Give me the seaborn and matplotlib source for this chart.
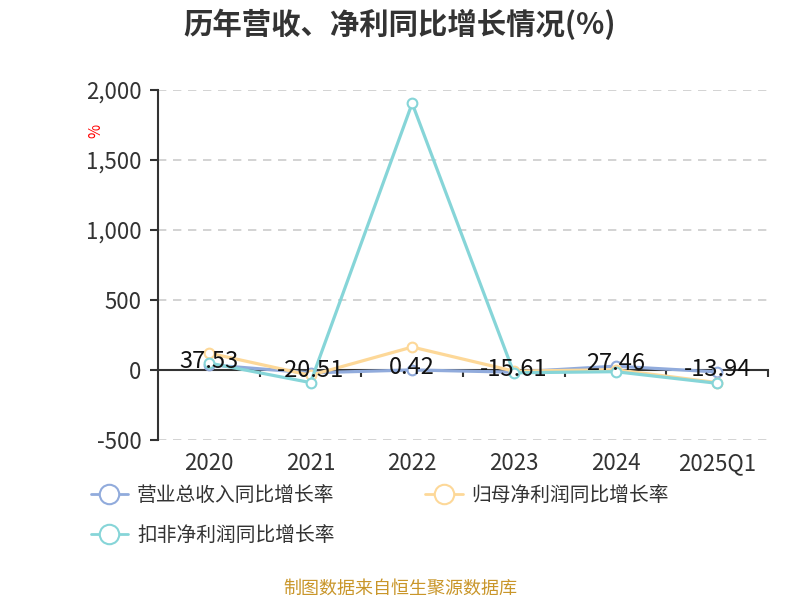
import pandas as pd
import matplotlib
matplotlib.use("Agg")
import matplotlib.pyplot as plt
from matplotlib.lines import Line2D
from matplotlib.ticker import FuncFormatter
import seaborn as sns

# 数据
years = ["2020", "2021", "2022", "2023", "2024", "2025Q1"]
revenue_growth = [37.53, -20.51, 0.42, -15.61, 27.46, -13.94]
net_profit_growth = [121, -38, 164, -8, 2, -90]
deducted_profit_growth = [50, -90, 1905, -20, -12, -95]

series_names = ["营业总收入同比增长率", "归母净利润同比增长率", "扣非净利润同比增长率"]
colors = ["#91abdc", "#fdd898", "#86d5d8"]

sns.set_theme(style="white")
plt.rcParams["font.family"] = ["Noto Sans CJK SC", "DejaVu Sans"]

df = pd.DataFrame({
    "year": years * 3,
    "value": revenue_growth + net_profit_growth + deducted_profit_growth,
    "series": [series_names[0]] * 6 + [series_names[1]] * 6 + [series_names[2]] * 6,
})

fig = plt.figure(figsize=(8, 6), dpi=100)
ax = fig.add_axes([158 / 800, 1 - 440 / 600, 610 / 800, 350 / 600])

for i, name in enumerate(series_names):
    sub = df[df["series"] == name]
    sns.lineplot(data=sub, x="year", y="value", ax=ax, color=colors[i], linewidth=2.3,
                 marker="o", markersize=7, markerfacecolor="white", markeredgecolor=colors[i],
                 markeredgewidth=1.5, sort=False, zorder=3 + i, clip_on=False)

# 数据标签
for i, v in enumerate(revenue_growth):
    ax.text(i, v + 20, f"{v:.2f}", ha="center", va="center", fontsize=17, color="#111111", zorder=10)

ax.set_xlim(-0.5, 5.5)
ax.set_ylim(-500, 2000)
ax.set_yticks([-500, 0, 500, 1000, 1500, 2000])
ax.yaxis.set_major_formatter(FuncFormatter(lambda v, p: f"{int(v):,}"))
ax.yaxis.grid(True, linestyle=(0, (5, 4)), color="#cccccc", linewidth=1.2)
ax.set_axisbelow(True)

for s in ["top", "right"]:
    ax.spines[s].set_visible(False)
ax.spines["left"].set_color("#333333")
ax.spines["left"].set_linewidth(1.5)
ax.spines["bottom"].set_position(("data", 0))
ax.spines["bottom"].set_color("#333333")
ax.spines["bottom"].set_linewidth(1.5)

ax.tick_params(axis="y", which="major", direction="out", length=6, width=1.5, color="#333333",
               labelsize=16, labelcolor="#333333", left=True, pad=6)
ax.set_xticks(range(len(years)))
ax.set_xticklabels(years)
ax.set_xticks([x + 0.5 for x in range(len(years))], minor=True)
ax.tick_params(axis="x", which="major", length=0, labelsize=16, labelcolor="#333333", pad=59)
ax.tick_params(axis="x", which="minor", direction="out", length=5, width=1.5, color="#333333", bottom=True)
ax.set_xlabel("")
ax.set_ylabel("")

fig.text(96 / 800, 1 - 131 / 600, "%", color="red", fontsize=11, rotation=90, ha="center", va="center")

# 图例
handles = [Line2D([0], [0], color=c, linewidth=2, marker="o", markersize=14,
                  markerfacecolor="white", markeredgecolor=c, markeredgewidth=1.5) for c in colors]
order = [0, 2, 1]
fig.legend([handles[k] for k in order], [series_names[k] for k in order], ncol=2,
           loc="upper left", bbox_to_anchor=(73 / 800, 1 - 467 / 600), frameon=False,
           fontsize=14.2, handlelength=1.9, handletextpad=0.45, columnspacing=4.6,
           labelspacing=0.95, labelcolor="#333333")

fig.text(0.5, 1 - 24 / 600, "历年营收、净利同比增长情况(%)", ha="center", va="center",
         fontsize=21.2, fontweight="bold", color="#333333")
fig.text(0.5, 1 - 589 / 600, "制图数据来自恒生聚源数据库", ha="center", va="center",
         fontsize=13, color="#c9962a")

fig.savefig("out.png", dpi=100)
